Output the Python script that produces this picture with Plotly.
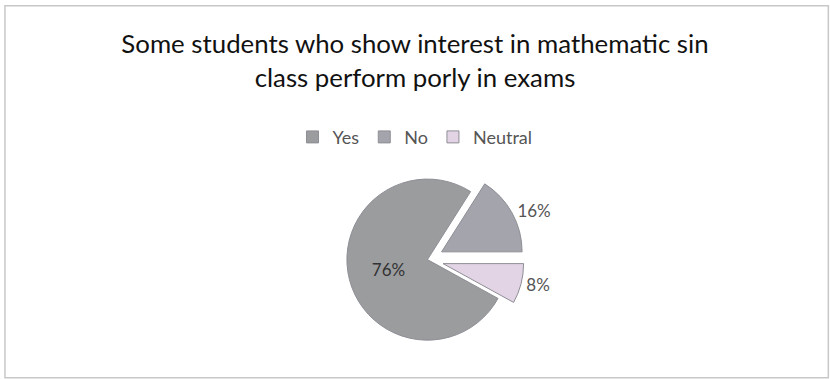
import plotly.graph_objects as go

labels = ["Yes", "No", "Neutral"]
values = [76, 16, 8]
colors = ["#9a9c9e", "#a4a4ac", "#e2d4e4"]
pulls = [0, 0.2, 0.2]
text_positions = ["inside", "outside", "outside"]
title_text = "Some students who show interest in mathematic sin<br>class perform porly in exams"

fig = go.Figure()
fig.add_trace(go.Pie(
    labels=labels,
    values=values,
    sort=False,
    direction="clockwise",
    rotation=118.8,
    pull=pulls,
    marker=dict(colors=colors, line=dict(color="#8e8e96", width=1)),
    textinfo="percent",
    textposition=text_positions,
    textfont=dict(family="Lato, Open Sans, sans-serif", size=17, color="#555555"),
    insidetextfont=dict(color="#333333"),
    domain=dict(x=[0.30, 0.73], y=[0.06, 0.57]),
    showlegend=True,
))

fig.update_layout(
    width=830, height=379,
    margin=dict(l=0, r=0, t=0, b=0),
    paper_bgcolor="white",
    plot_bgcolor="white",
    title=dict(text=title_text, x=0.5, xanchor="center", y=0.86, yanchor="top",
               font=dict(family="Lato, Open Sans, sans-serif", size=25.8, color="#111111")),
    legend=dict(orientation="h", x=0.5, xanchor="center", y=0.638, yanchor="middle",
                font=dict(family="Lato, Open Sans, sans-serif", size=18, color="#555555"),
                itemwidth=30, traceorder="normal"),
    shapes=[dict(type="rect", xref="paper", yref="paper", x0=0.006, x1=0.998, y0=0.003, y1=0.985,
                 line=dict(color="#c8c8c8", width=1.5))],
)

fig.write_html("out.html")
